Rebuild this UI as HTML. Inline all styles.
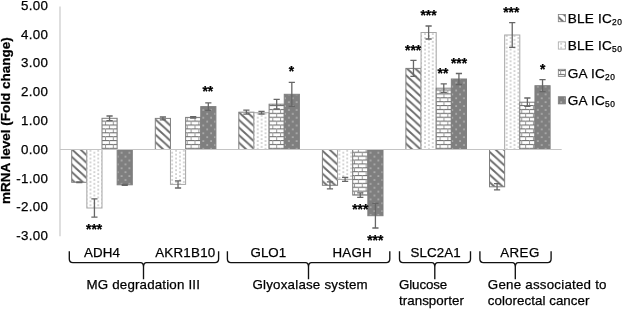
<!DOCTYPE html>
<html><head><meta charset="utf-8"><title>mRNA level (Fold change)</title>
<style>
html,body{margin:0;padding:0;background:#fff;}
svg{display:block;}
text{font-family:"Liberation Sans",Arial,sans-serif;font-size:13.33px;fill:#000;stroke:#000;stroke-width:0.25px;}
.b{font-weight:bold;font-size:13.5px;}
.s{font-weight:bold;text-anchor:middle;font-size:13.8px;}
.lg{font-size:13.6px;letter-spacing:0.2px;}
.sub{font-size:8.4px;letter-spacing:0.6px;}
</style></head><body>
<svg width="622" height="309" viewBox="0 0 622 309">
<defs>
<pattern id="p1" patternUnits="userSpaceOnUse" x="1.5" y="0" width="8.3" height="7.6"><rect width="8.3" height="7.6" fill="#fff"/><path d="M0 0L8.3 7.6V10.1L0 2.5ZM0 -7.6L8.3 0V2.5L0 -5.1Z" fill="#6a6a6a"/></pattern>
<pattern id="p2" patternUnits="userSpaceOnUse" width="7.78" height="3.89"><rect width="7.78" height="3.89" fill="#fff"/><rect x="0.5" y="0.5" width="1" height="1" fill="#606060"/><rect x="4.390000000000001" y="2.4450000000000003" width="1" height="1" fill="#606060"/></pattern>
<pattern id="p3" patternUnits="userSpaceOnUse" width="7.78" height="7.78"><rect width="7.78" height="7.78" fill="#fff"/><rect x="0" y="0" width="7.78" height="1.1" fill="#707070"/><rect x="0" y="3.89" width="7.78" height="1.1" fill="#707070"/><rect x="0" y="0" width="1" height="3.89" fill="#999"/><rect x="3.89" y="3.89" width="1" height="3.89" fill="#999"/></pattern>
<pattern id="p4" patternUnits="userSpaceOnUse" width="7.78" height="7.78"><rect width="7.78" height="7.78" fill="#7f7f7f"/><rect x="0.5" y="0.5" width="1.05" height="1.05" fill="#fff"/><rect x="4.390000000000001" y="4.390000000000001" width="1.05" height="1.05" fill="#fff"/></pattern>
</defs>
<rect width="622" height="309" fill="#fff"/>
<rect x="71.70" y="149.50" width="15.15" height="32.80" fill="url(#p1)" stroke="#7f7f7f" stroke-width="1"/>
<rect x="86.85" y="149.50" width="15.15" height="58.50" fill="url(#p2)" stroke="#a6a6a6" stroke-width="1"/>
<rect x="102.00" y="118.30" width="15.15" height="31.20" fill="url(#p3)" stroke="#7f7f7f" stroke-width="1"/>
<rect x="117.15" y="149.50" width="15.15" height="35.30" fill="url(#p4)" stroke="#7f7f7f" stroke-width="1"/>
<rect x="155.30" y="118.40" width="15.15" height="31.10" fill="url(#p1)" stroke="#7f7f7f" stroke-width="1"/>
<rect x="170.45" y="149.50" width="15.15" height="34.90" fill="url(#p2)" stroke="#a6a6a6" stroke-width="1"/>
<rect x="185.60" y="117.40" width="15.15" height="32.10" fill="url(#p3)" stroke="#7f7f7f" stroke-width="1"/>
<rect x="200.75" y="106.60" width="15.15" height="42.90" fill="url(#p4)" stroke="#7f7f7f" stroke-width="1"/>
<rect x="238.80" y="112.20" width="15.15" height="37.30" fill="url(#p1)" stroke="#7f7f7f" stroke-width="1"/>
<rect x="253.95" y="112.70" width="15.15" height="36.80" fill="url(#p2)" stroke="#a6a6a6" stroke-width="1"/>
<rect x="269.10" y="104.20" width="15.15" height="45.30" fill="url(#p3)" stroke="#7f7f7f" stroke-width="1"/>
<rect x="284.25" y="94.30" width="15.15" height="55.20" fill="url(#p4)" stroke="#7f7f7f" stroke-width="1"/>
<rect x="322.40" y="149.50" width="15.15" height="35.80" fill="url(#p1)" stroke="#7f7f7f" stroke-width="1"/>
<rect x="337.55" y="149.50" width="15.15" height="29.90" fill="url(#p2)" stroke="#a6a6a6" stroke-width="1"/>
<rect x="352.70" y="149.50" width="15.15" height="45.60" fill="url(#p3)" stroke="#7f7f7f" stroke-width="1"/>
<rect x="367.85" y="149.50" width="15.15" height="66.20" fill="url(#p4)" stroke="#7f7f7f" stroke-width="1"/>
<rect x="405.90" y="68.40" width="15.15" height="81.10" fill="url(#p1)" stroke="#7f7f7f" stroke-width="1"/>
<rect x="421.05" y="32.50" width="15.15" height="117.00" fill="url(#p2)" stroke="#a6a6a6" stroke-width="1"/>
<rect x="436.20" y="88.20" width="15.15" height="61.30" fill="url(#p3)" stroke="#7f7f7f" stroke-width="1"/>
<rect x="451.35" y="79.00" width="15.15" height="70.50" fill="url(#p4)" stroke="#7f7f7f" stroke-width="1"/>
<rect x="489.50" y="149.50" width="15.15" height="37.30" fill="url(#p1)" stroke="#7f7f7f" stroke-width="1"/>
<rect x="504.65" y="35.00" width="15.15" height="114.50" fill="url(#p2)" stroke="#a6a6a6" stroke-width="1"/>
<rect x="519.80" y="102.20" width="15.15" height="47.30" fill="url(#p3)" stroke="#7f7f7f" stroke-width="1"/>
<rect x="534.95" y="85.70" width="15.15" height="63.80" fill="url(#p4)" stroke="#7f7f7f" stroke-width="1"/>
<line x1="60" y1="6.4" x2="60" y2="236.2" stroke="#c4c4c4" stroke-width="1.1"/>
<line x1="60" y1="149.5" x2="561.7" y2="149.5" stroke="#c4c4c4" stroke-width="1.1"/>
<path d="M79.28 181.90V182.70M76.18 181.90h6.2M76.18 182.70h6.2" stroke="#666" stroke-width="1.3" fill="none"/>
<path d="M94.43 198.90V217.10M91.33 198.90h6.2M91.33 217.10h6.2" stroke="#666" stroke-width="1.3" fill="none"/>
<path d="M109.58 116.00V120.60M106.48 116.00h6.2M106.48 120.60h6.2" stroke="#666" stroke-width="1.3" fill="none"/>
<path d="M124.73 184.30V185.30M121.63 184.30h6.2M121.63 185.30h6.2" stroke="#666" stroke-width="1.3" fill="none"/>
<path d="M162.88 117.00V119.80M159.78 117.00h6.2M159.78 119.80h6.2" stroke="#666" stroke-width="1.3" fill="none"/>
<path d="M178.03 180.80V188.00M174.93 180.80h6.2M174.93 188.00h6.2" stroke="#666" stroke-width="1.3" fill="none"/>
<path d="M193.18 116.60V118.20M190.08 116.60h6.2M190.08 118.20h6.2" stroke="#666" stroke-width="1.3" fill="none"/>
<path d="M208.32 102.80V110.40M205.22 102.80h6.2M205.22 110.40h6.2" stroke="#666" stroke-width="1.3" fill="none"/>
<path d="M246.38 110.20V114.20M243.28 110.20h6.2M243.28 114.20h6.2" stroke="#666" stroke-width="1.3" fill="none"/>
<path d="M261.53 111.40V114.00M258.43 111.40h6.2M258.43 114.00h6.2" stroke="#666" stroke-width="1.3" fill="none"/>
<path d="M276.68 99.40V109.00M273.57 99.40h6.2M273.57 109.00h6.2" stroke="#666" stroke-width="1.3" fill="none"/>
<path d="M291.82 82.30V106.30M288.72 82.30h6.2M288.72 106.30h6.2" stroke="#666" stroke-width="1.3" fill="none"/>
<path d="M329.97 181.80V188.80M326.87 181.80h6.2M326.87 188.80h6.2" stroke="#666" stroke-width="1.3" fill="none"/>
<path d="M345.12 177.40V181.40M342.02 177.40h6.2M342.02 181.40h6.2" stroke="#666" stroke-width="1.3" fill="none"/>
<path d="M360.27 192.80V197.40M357.17 192.80h6.2M357.17 197.40h6.2" stroke="#666" stroke-width="1.3" fill="none"/>
<path d="M375.42 203.40V228.00M372.32 203.40h6.2M372.32 228.00h6.2" stroke="#666" stroke-width="1.3" fill="none"/>
<path d="M413.47 60.40V76.40M410.37 60.40h6.2M410.37 76.40h6.2" stroke="#666" stroke-width="1.3" fill="none"/>
<path d="M428.62 26.00V39.00M425.52 26.00h6.2M425.52 39.00h6.2" stroke="#666" stroke-width="1.3" fill="none"/>
<path d="M443.77 83.90V92.50M440.67 83.90h6.2M440.67 92.50h6.2" stroke="#666" stroke-width="1.3" fill="none"/>
<path d="M458.92 73.50V84.50M455.82 73.50h6.2M455.82 84.50h6.2" stroke="#666" stroke-width="1.3" fill="none"/>
<path d="M497.07 183.70V189.90M493.97 183.70h6.2M493.97 189.90h6.2" stroke="#666" stroke-width="1.3" fill="none"/>
<path d="M512.23 22.70V47.30M509.12 22.70h6.2M509.12 47.30h6.2" stroke="#666" stroke-width="1.3" fill="none"/>
<path d="M527.38 98.00V106.40M524.27 98.00h6.2M524.27 106.40h6.2" stroke="#666" stroke-width="1.3" fill="none"/>
<path d="M542.53 79.70V91.70M539.43 79.70h6.2M539.43 91.70h6.2" stroke="#666" stroke-width="1.3" fill="none"/>
<text x="48.2" y="10" text-anchor="end" letter-spacing="0.3">5.00</text>
<text x="48.2" y="39" text-anchor="end" letter-spacing="0.3">4.00</text>
<text x="48.2" y="67" text-anchor="end" letter-spacing="0.3">3.00</text>
<text x="48.2" y="96" text-anchor="end" letter-spacing="0.3">2.00</text>
<text x="48.2" y="125" text-anchor="end" letter-spacing="0.3">1.00</text>
<text x="48.2" y="154" text-anchor="end" letter-spacing="0.3">0.00</text>
<text x="48.2" y="183" text-anchor="end" letter-spacing="0.3">-1.00</text>
<text x="48.2" y="211" text-anchor="end" letter-spacing="0.3">-2.00</text>
<text x="48.2" y="240" text-anchor="end" letter-spacing="0.3">-3.00</text>
<text class="b" transform="translate(10.3,120.6) rotate(-90)" text-anchor="middle">mRNA level (Fold change)</text>
<text class="s" x="94.1" y="234">***</text>
<text class="s" x="207.8" y="96">**</text>
<text class="s" x="291.4" y="76">*</text>
<text class="s" x="360.2" y="214">***</text>
<text class="s" x="375.3" y="245">***</text>
<text class="s" x="413.1" y="55">***</text>
<text class="s" x="428.5" y="20">***</text>
<text class="s" x="442.9" y="78">**</text>
<text class="s" x="459.0" y="68">***</text>
<text class="s" x="511.2" y="17">***</text>
<text class="s" x="542.6" y="74">*</text>
<text x="84.00" y="257" letter-spacing="0.133">ADH4</text>
<text x="155.20" y="257" letter-spacing="0.258">AKR1B10</text>
<text x="250.50" y="257" letter-spacing="0.033">GLO1</text>
<text x="332.50" y="257" letter-spacing="0.233">HAGH</text>
<text x="410.50" y="257" letter-spacing="0.100">SLC2A1</text>
<text x="500.20" y="257" letter-spacing="0.433">AREG</text>
<text x="86.50" y="289.1" letter-spacing="0.176">MG degradation III</text>
<text x="252.50" y="289.1" letter-spacing="0.206">Glyoxalase system</text>
<text x="399.00" y="289.1" letter-spacing="-0.117">Glucose</text>
<text x="399.00" y="305.2" letter-spacing="0.040">transporter</text>
<text x="487.80" y="289.1" letter-spacing="0.229">Gene associated to</text>
<text x="487.80" y="305.2" letter-spacing="0.056">colorectal cancer</text>
<path d="M69.3 251.2V259.1Q69.3 262.6 72.8 262.6H140.5Q143.5 262.6 143.5 267.1V279.2M143.5 267.1Q143.5 262.6 146.5 262.6H215.1Q218.6 262.6 218.6 259.1V251.2" stroke="#111" stroke-width="1.35" fill="none"/>
<path d="M227.4 251.2V259.1Q227.4 262.6 230.9 262.6H305.5Q308.5 262.6 308.5 267.1V279.2M308.5 267.1Q308.5 262.6 311.5 262.6H386.3Q389.8 262.6 389.8 259.1V251.2" stroke="#111" stroke-width="1.35" fill="none"/>
<path d="M399.5 251.2V259.1Q399.5 262.6 403.0 262.6H431.8Q434.8 262.6 434.8 267.1V279.2M434.8 267.1Q434.8 262.6 437.8 262.6H467.0Q470.5 262.6 470.5 259.1V251.2" stroke="#111" stroke-width="1.35" fill="none"/>
<path d="M479.9 251.2V259.1Q479.9 262.6 483.4 262.6H512.3Q515.3 262.6 515.3 267.1V279.2M515.3 267.1Q515.3 262.6 518.3 262.6H547.6Q551.1 262.6 551.1 259.1V251.2" stroke="#111" stroke-width="1.35" fill="none"/>
<rect x="558.3" y="14.50" width="7.2" height="7.2" fill="url(#p1)" stroke="#7f7f7f" stroke-width="0.8"/>
<text class="lg" x="567.8" y="22.80">BLE IC<tspan class="sub" dy="2.0">20</tspan></text>
<rect x="558.3" y="41.90" width="7.2" height="7.2" fill="url(#p2)" stroke="#a6a6a6" stroke-width="0.8"/>
<text class="lg" x="567.8" y="50.20">BLE IC<tspan class="sub" dy="2.0">50</tspan></text>
<rect x="558.3" y="69.30" width="7.2" height="7.2" fill="url(#p3)" stroke="#7f7f7f" stroke-width="0.8"/>
<text class="lg" x="567.8" y="77.60">GA IC<tspan class="sub" dy="2.0">20</tspan></text>
<rect x="558.3" y="96.70" width="7.2" height="7.2" fill="url(#p4)" stroke="#7f7f7f" stroke-width="0.8"/>
<text class="lg" x="567.8" y="105.00">GA IC<tspan class="sub" dy="2.0">50</tspan></text>
</svg></body></html>
